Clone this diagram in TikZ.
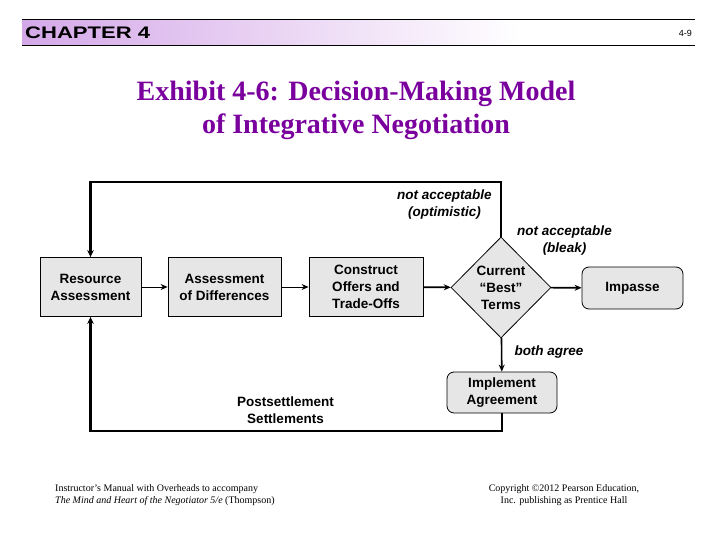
\documentclass[tikz,border=0pt]{standalone}
\usepackage{fontspec}
\setmainfont{Liberation Serif}
\setsansfont{Liberation Sans}
\usetikzlibrary{shapes.geometric,calc,arrows.meta}
\definecolor{exhibitpurple}{RGB}{122,0,158}
\definecolor{headerlilac}{RGB}{212,168,232}
\definecolor{boxgray}{RGB}{230,230,230}
\tikzstyle{stepbox} = [rectangle, minimum height=59pt, inner sep=0pt, text centered, align=center, draw=black, line width=0.8pt, fill=boxgray, font=\sffamily\bfseries\fontsize{13.5}{17}\selectfont]
\tikzstyle{endbox} = [stepbox, rounded corners=7pt, minimum height=42pt]
\tikzstyle{decision} = [diamond, aspect=1, minimum width=100pt, minimum height=101pt, inner sep=0pt, text centered, align=center, draw=black, line width=0.8pt, fill=boxgray, font=\sffamily\bfseries\fontsize{13.5}{17}\selectfont]
\tikzstyle{outcome} = [align=center, inner sep=0pt, font=\sffamily\bfseries\itshape\fontsize{13.5}{17}\selectfont]
\tikzstyle{arrow} = [line width=1pt,->,>={Stealth[length=7pt,width=6pt]}]
\tikzstyle{thickarrow} = [line width=1.6pt,->,>={Stealth[length=7pt,width=6pt]}]
\tikzstyle{feedback} = [line width=2.2pt,->,>={Stealth[length=7pt,width=6.5pt]}]
\begin{document}
\begin{tikzpicture}[x=1pt,y=-1pt]
    \useasboundingbox (0,0) rectangle (720,540);
    % header bar
    \shade[left color=headerlilac, right color=white] (22,20) rectangle (520,46);
    \draw[line width=1pt] (22,20) -- (695,20) (22,46) -- (695,46);
    \node (chap)[anchor=west, inner sep=0pt, font=\sffamily\bfseries\fontsize{16.7}{18}\selectfont] at (25,33) {\scalebox{1.32}[1]{CHAPTER 4}};
    \node (page)[anchor=east, inner sep=0pt, font=\sffamily\fontsize{9}{10}\selectfont] at (692,33) {4-9};
    % title
    \node (title)[align=center, text=exhibitpurple, font=\bfseries\fontsize{28}{33}\selectfont] at (356,110) {Exhibit 4-6: Decision-Making Model\\of Integrative Negotiation};
    % process
    \node (res)[stepbox, minimum width=101pt] at (90.5,287) {Resource\\Assessment};
    \node (diff)[stepbox, minimum width=113pt] at (224.5,287) {Assessment\\of Differences};
    \node (cons)[stepbox, minimum width=114pt] at (366,287) {Construct\\Offers and\\Trade-Offs};
    \node (cur)[decision] at (501,287.5) {Current\\``Best''\\Terms};
    \node (imp)[endbox, minimum width=101pt] at (632.5,288) {Impasse};
    \node (impl)[endbox, minimum width=110pt, minimum height=41pt] at (502,392.5) {Implement\\Agreement};
    \coordinate (looptop) at (0,182);
    \coordinate (loopbot) at (0,431);
    \draw[arrow] (res) -- (diff);
    \draw[arrow] (diff) -- (cons);
    \draw[thickarrow] (cons) -- (cur);
    \draw[thickarrow] (cur) -- (imp);
    \draw[thickarrow] (cur) -- (impl);
    \draw[feedback] (cur.north) -- (cur.north |- looptop) -| (res.north);
    \draw[feedback] (impl.south) -- (impl.south |- loopbot) -| (res.south);
    % labels
    \node (opt)[outcome] at (444.5,204.5) {not acceptable\\(optimistic)};
    \node (bleak)[outcome] at (564.5,241) {not acceptable\\(bleak)};
    \node (agree)[outcome] at (549,352.5) {both agree};
    \node (post)[align=center, inner sep=0pt, font=\sffamily\bfseries\fontsize{13.5}{17}\selectfont] at (285.5,410) {Postsettlement\\Settlements};
    % footer
    \node (src)[anchor=west, align=left, inner sep=0pt, font=\fontsize{10}{12}\selectfont] at (55,495) {Instructor's Manual with Overheads to accompany\\\textit{The Mind and Heart of the Negotiator 5/e} (Thompson)};
    \node (copy)[align=center, inner sep=0pt, font=\fontsize{10}{12}\selectfont] at (564,495) {Copyright \textcopyright2012 Pearson Education,\\Inc. publishing as Prentice Hall};
\end{tikzpicture}
\end{document}
